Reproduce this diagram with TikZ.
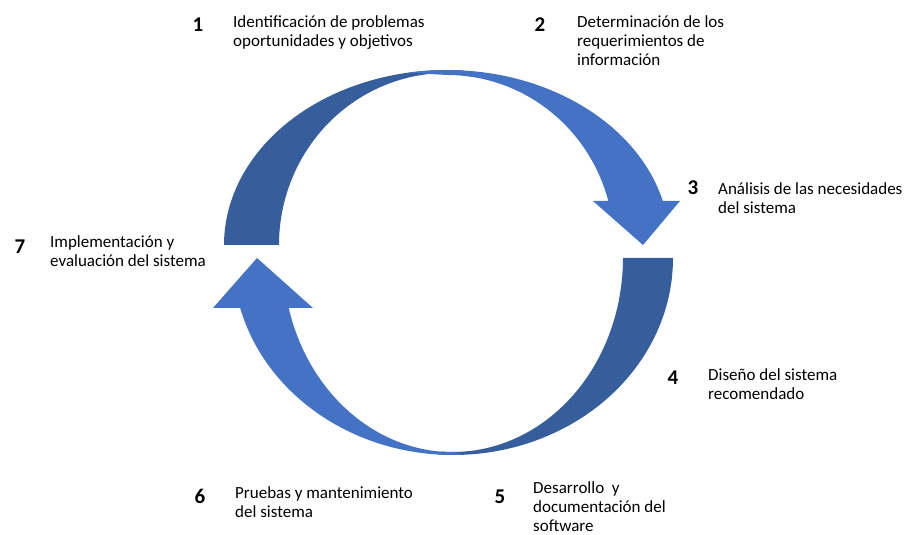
\documentclass[tikz,border=0pt]{standalone}
\usepackage{fontspec}
\setmainfont{Carlito}

\definecolor{arrowlight}{RGB}{68,114,196}
\definecolor{arrowdark}{RGB}{54,93,156}

\begin{document}
\begin{tikzpicture}[x=1pt, y=1pt]
    \useasboundingbox (0,0) rectangle (907,535);
    \tikzset{num/.style={font=\fontsize{21}{21}\selectfont\bfseries, inner sep=0pt, anchor=base}}
    \tikzset{desc/.style={font=\fontsize{17}{19}\selectfont, align=left, inner sep=0pt, anchor=base west}}

    % upper arrow
    \fill[arrowdark] (224,290) arc[start angle=180, end angle=86, x radius=223, y radius=175]
        -- (458.7,461.6) arc[start angle=86, end angle=180, x radius=168, y radius=172] -- cycle;
    \fill[arrowlight] (408.3,462.3) arc[start angle=100, end angle=14.6, x radius=223, y radius=175]
        -- (680,334) -- (643,290) -- (593,334) -- (608.3,334)
        arc[start angle=15, end angle=90, x radius=167, y radius=170] -- cycle;

    % lower arrow
    \fill[arrowdark] (673,277) arc[start angle=0, end angle=-94, x radius=220, y radius=197]
        -- (441.1,83.5) arc[start angle=-94, end angle=0, x radius=170, y radius=194] -- cycle;
    \fill[arrowlight] (464.5,80.3) arc[start angle=273, end angle=194.7, x radius=220, y radius=197]
        -- (213,227) -- (257,277) -- (313,227) -- (288.7,227)
        arc[start angle=194.9, end angle=270, x radius=170, y radius=194] -- cycle;

    % steps (base = last line)
    \node[num] (n1) at (198,503.3) {1};
    \node[desc] (t1) at (233,488.5) {Identificación de problemas\\oportunidades y objetivos};
    \node[num] (n2) at (540,503.3) {2};
    \node[desc] (t2) at (577,469.5) {Determinación de los\\requerimientos de\\información};
    \node[num] (n3) at (693,340) {3};
    \node[desc] (t3) at (718,321.5) {Análisis de las necesidades\\del sistema};
    \node[num] (n4) at (673,150) {4};
    \node[desc] (t4) at (708,135.5) {Diseño del sistema\\recomendado};
    \node[num] (n5) at (500,31.7) {5};
    \node[desc] (t5) at (533,3.5) {Desarrollo\ \ y\\documentación del\\software};
    \node[num] (n6) at (200,31.7) {6};
    \node[desc] (t6) at (235,17.5) {Pruebas y mantenimiento\\del sistema};
    \node[num] (n7) at (20,281.7) {7};
    \node[desc] (t7) at (50,268.5) {Implementación y\\evaluación del sistema};
\end{tikzpicture}
\end{document}
